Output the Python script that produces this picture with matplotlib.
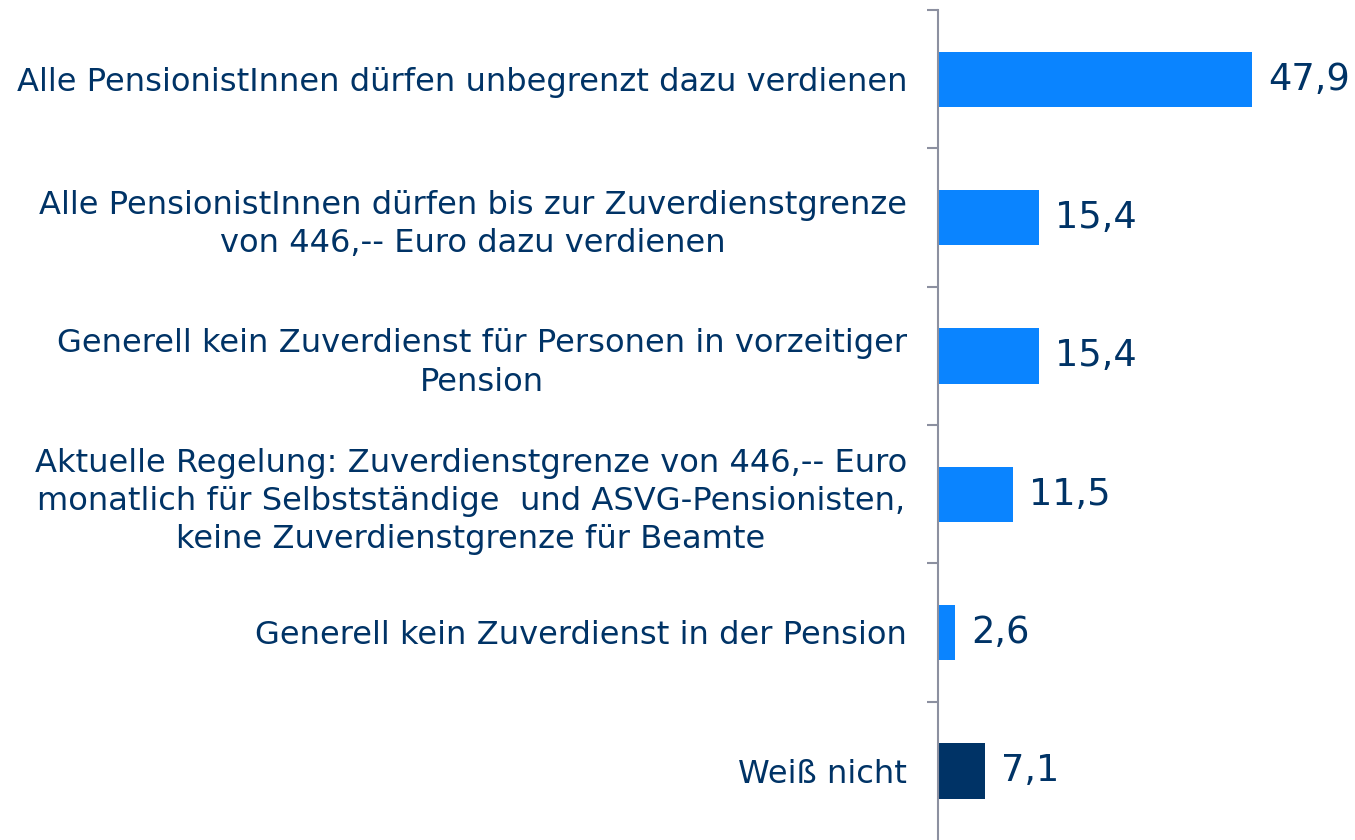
import matplotlib
matplotlib.use("Agg")
import matplotlib.pyplot as plt
import numpy as np

plt.rcParams["font.family"] = ["DejaVu Sans"]

categories = [
    "Alle PensionistInnen dürfen unbegrenzt dazu verdienen",
    "Alle PensionistInnen dürfen bis zur Zuverdienstgrenze\nvon 446,-- Euro dazu verdienen",
    "Generell kein Zuverdienst für Personen in vorzeitiger\nPension",
    "Aktuelle Regelung: Zuverdienstgrenze von 446,-- Euro\nmonatlich für Selbstständige  und ASVG-Pensionisten,\nkeine Zuverdienstgrenze für Beamte",
    "Generell kein Zuverdienst in der Pension",
    "Weiß nicht",
]
values = [47.9, 15.4, 15.4, 11.5, 2.6, 7.1]
value_labels = ["47,9", "15,4", "15,4", "11,5", "2,6", "7,1"]
bar_colors = ["#0A84FF", "#0A84FF", "#0A84FF", "#0A84FF", "#0A84FF", "#003366"]

text_color = "#003366"
axis_color = "#8C90A0"

fig = plt.figure(figsize=(13.55, 8.4), dpi=100)
ax = fig.add_axes([938 / 1355, 0.0, 1 - 938 / 1355, 1 - 10 / 840])

y = np.arange(len(categories))
ax.barh(y, values, height=0.4, color=bar_colors, zorder=2)
ax.set_ylim(len(categories) - 0.5, -0.5)
ax.set_xlim(0, 63.6)

for yi, v, lab in zip(y, values, value_labels):
    ax.annotate(lab, (v, yi), xytext=(16, 0), textcoords="offset pixels",
                va="center", ha="left", fontsize=26.5, color=text_color)

ax.set_yticks(y)
ax.set_yticklabels(categories, fontsize=23.1, color=text_color,
                   multialignment="center", linespacing=1.3)
ax.tick_params(axis="y", which="major", length=0, pad=22.3)
ax.set_yticks(np.arange(-0.5, len(categories) - 0.5, 1.0), minor=True)
ax.tick_params(axis="y", which="minor", length=8, width=1.5, color=axis_color)
ax.set_xticks([])

for s in ["top", "right", "bottom"]:
    ax.spines[s].set_visible(False)
ax.spines["left"].set_color(axis_color)
ax.spines["left"].set_linewidth(1.5)

fig.savefig("out.png", dpi=100)
